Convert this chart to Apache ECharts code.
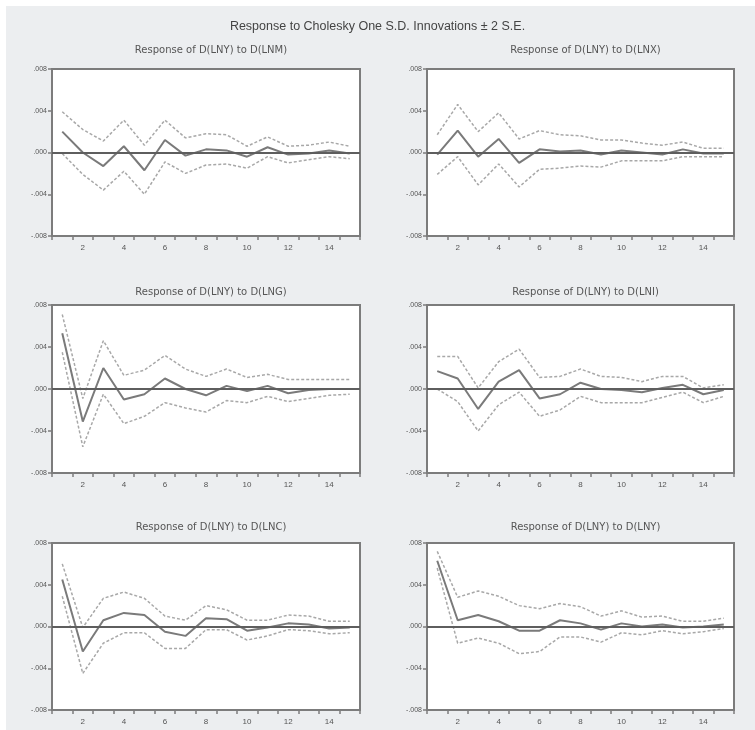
<!DOCTYPE html>
<html>
<head>
<meta charset="utf-8">
<script src="https://cdn.jsdelivr.net/npm/echarts@6/dist/echarts.min.js"></script>
<style>html,body{margin:0;padding:0;background:#fff}#c{width:755px;height:730px}</style>
</head>
<body>
<div id="c"></div>
<script>
var periods = [1,2,3,4,5,6,7,8,9,10,11,12,13,14,15];
var yTicks = [-0.008, -0.004, 0, 0.004, 0.008];
var mainTitle = 'Response to Cholesky One S.D. Innovations \u00b1 2 S.E.';
var panelTitles = [
  'Response of D(LNY) to D(LNM)', 'Response of D(LNY) to D(LNX)',
  'Response of D(LNY) to D(LNG)', 'Response of D(LNY) to D(LNI)',
  'Response of D(LNY) to D(LNC)', 'Response of D(LNY) to D(LNY)'
];

// LNM
var lnmResp  = [0.0020,0.0000,-0.0013,0.0006,-0.0017,0.0012,-0.0003,0.0003,0.0002,-0.0004,0.0005,-0.0002,-0.0001,0.0002,-0.0001];
var lnmUpper = [0.0039,0.0022,0.0011,0.0031,0.0007,0.0031,0.0014,0.0018,0.0017,0.0006,0.0015,0.0006,0.0007,0.0010,0.0006];
var lnmLower = [-0.0001,-0.0021,-0.0036,-0.0018,-0.0040,-0.0009,-0.0020,-0.0012,-0.0011,-0.0015,-0.0004,-0.0010,-0.0007,-0.0004,-0.0006];
// LNX
var lnxResp  = [-0.0002,0.0021,-0.0004,0.0013,-0.0010,0.0003,0.0001,0.0002,-0.0002,0.0002,0.0000,-0.0002,0.0003,-0.0001,-0.0001];
var lnxUpper = [0.0017,0.0046,0.0020,0.0038,0.0013,0.0021,0.0017,0.0016,0.0012,0.0012,0.0009,0.0007,0.0010,0.0004,0.0004];
var lnxLower = [-0.0021,-0.0004,-0.0031,-0.0011,-0.0033,-0.0016,-0.0015,-0.0013,-0.0014,-0.0008,-0.0008,-0.0008,-0.0004,-0.0004,-0.0004];
// LNG
var lngResp  = [0.0053,-0.0031,0.0020,-0.0010,-0.0005,0.0010,0.0000,-0.0006,0.0003,-0.0002,0.0003,-0.0004,-0.0001,0.0000,0.0000];
var lngUpper = [0.0071,-0.0009,0.0046,0.0013,0.0018,0.0032,0.0019,0.0012,0.0019,0.0011,0.0014,0.0009,0.0009,0.0009,0.0009];
var lngLower = [0.0035,-0.0055,-0.0005,-0.0033,-0.0026,-0.0013,-0.0018,-0.0022,-0.0011,-0.0013,-0.0007,-0.0012,-0.0009,-0.0006,-0.0005];
// LNI
var lniResp  = [0.0017,0.0010,-0.0019,0.0007,0.0018,-0.0009,-0.0005,0.0006,0.0000,-0.0001,-0.0003,0.0001,0.0004,-0.0005,-0.0001];
var lniUpper = [0.0031,0.0031,0.0001,0.0026,0.0038,0.0011,0.0012,0.0019,0.0012,0.0011,0.0007,0.0012,0.0012,0.0001,0.0004];
var lniLower = [0.0000,-0.0012,-0.0040,-0.0015,-0.0003,-0.0026,-0.0020,-0.0007,-0.0013,-0.0013,-0.0013,-0.0008,-0.0003,-0.0013,-0.0007];
// LNC
var lncResp  = [0.0045,-0.0024,0.0006,0.0013,0.0011,-0.0005,-0.0009,0.0008,0.0007,-0.0004,-0.0001,0.0003,0.0002,-0.0002,-0.0001];
var lncUpper = [0.0060,-0.0001,0.0027,0.0033,0.0027,0.0010,0.0006,0.0020,0.0016,0.0006,0.0006,0.0011,0.0010,0.0005,0.0005];
var lncLower = [0.0029,-0.0045,-0.0016,-0.0006,-0.0006,-0.0021,-0.0021,-0.0003,-0.0003,-0.0013,-0.0009,-0.0003,-0.0004,-0.0007,-0.0006];
// LNY
var lnyResp  = [0.0063,0.0006,0.0011,0.0005,-0.0004,-0.0004,0.0006,0.0003,-0.0003,0.0003,0.0000,0.0002,-0.0001,0.0000,0.0002];
var lnyUpper = [0.0072,0.0028,0.0034,0.0029,0.0020,0.0017,0.0022,0.0019,0.0010,0.0015,0.0009,0.0010,0.0005,0.0005,0.0008];
var lnyLower = [0.0056,-0.0016,-0.0011,-0.0016,-0.0026,-0.0024,-0.0010,-0.0010,-0.0015,-0.0006,-0.0008,-0.0004,-0.0007,-0.0005,-0.0002];

var panels = [
  [lnmResp, lnmUpper, lnmLower], [lnxResp, lnxUpper, lnxLower],
  [lngResp, lngUpper, lngLower], [lniResp, lniUpper, lniLower],
  [lncResp, lncUpper, lncLower], [lnyResp, lnyUpper, lnyLower]
];

var lefts = [52, 427];
var widths = [308, 307];
var tops = [69, 305, 543];
var heights = [167, 168, 167];
var subTitleY = [40, 282, 517];

var chart = echarts.init(document.getElementById('c'));
var grids = [], xAxes = [], yAxes = [], series = [], titles = [];
var textColor = '#555';
var font = 'Liberation Sans, Arial, sans-serif';

titles.push({text: mainTitle, left: 'center', top: 15,
  textStyle: {fontSize: 12.5, fontWeight: 'normal', color: '#444', fontFamily: font}});

function fmtY(v) {
  if (Math.abs(v) < 1e-12) return '.000';
  var s = Math.abs(v).toFixed(3).replace(/^0/, '');
  return (v < 0 ? '-' : '') + s;
}

for (var i = 0; i < 6; i++) {
  var col = i % 2, row = Math.floor(i / 2);
  grids.push({left: lefts[col], top: tops[row], width: widths[col], height: heights[row],
    show: true, backgroundColor: '#fff', borderColor: '#7c7c7c', borderWidth: 2, containLabel: false});
  titles.push({text: panelTitles[i], left: lefts[col] + widths[col] / 2, top: subTitleY[row], textAlign: 'center',
    textStyle: {fontSize: 10, fontWeight: 'normal', color: textColor, fontFamily: 'DejaVu Sans, sans-serif'}});
  xAxes.push({type: 'category', gridIndex: i, data: periods.map(String), boundaryGap: true, position: 'bottom',
    axisLine: {show: true, onZero: false, lineStyle: {color: '#7c7c7c', width: 2}},
    axisTick: {show: true, interval: 0, length: 4, inside: false, lineStyle: {color: '#7c7c7c', width: 1.5}},
    axisLabel: {interval: 0, margin: 8, fontSize: 8, color: textColor, fontFamily: font,
      formatter: function (v) { return (+v) % 2 === 0 ? v : ''; }},
    splitLine: {show: false}});
  yAxes.push({type: 'value', gridIndex: i, min: -0.008, max: 0.008, interval: 0.004,
    axisLine: {show: true, lineStyle: {color: '#7c7c7c', width: 2}},
    axisTick: {show: true, length: 4, lineStyle: {color: '#7c7c7c', width: 1.5}},
    axisLabel: {margin: 5, fontSize: 7, color: textColor, fontFamily: font, formatter: fmtY},
    splitLine: {show: false}});
  var d = panels[i];
  series.push({type: 'line', xAxisIndex: i, yAxisIndex: i, data: d[1], symbol: 'none', silent: true,
    lineStyle: {color: '#a8a8a8', width: 1.5, type: [3, 2]}});
  series.push({type: 'line', xAxisIndex: i, yAxisIndex: i, data: d[2], symbol: 'none', silent: true,
    lineStyle: {color: '#a8a8a8', width: 1.5, type: [3, 2]}});
  series.push({type: 'line', xAxisIndex: i, yAxisIndex: i, data: d[0], symbol: 'none', silent: true,
    lineStyle: {color: '#7a7a7a', width: 2},
    markLine: {silent: true, symbol: 'none', label: {show: false},
      lineStyle: {color: '#5e5e5e', width: 2, type: 'solid'}, data: [{yAxis: 0}]}});
}

chart.setOption({
  animation: false,
  backgroundColor: '#fff',
  graphic: [{type: 'rect', shape: {x: 6, y: 6, width: 749, height: 724}, style: {fill: '#eceef0'}, z: -10, silent: true}],
  title: titles,
  grid: grids,
  xAxis: xAxes,
  yAxis: yAxes,
  series: series
});
</script>
</body>
</html>
